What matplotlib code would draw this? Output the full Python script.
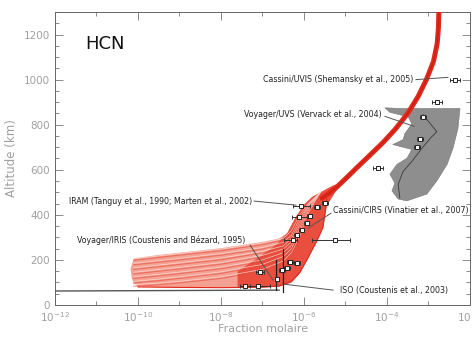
import numpy as np
import matplotlib
matplotlib.use("Agg")
import matplotlib.pyplot as plt
from matplotlib.ticker import FixedLocator, NullFormatter

# ---- data (log10 of mole fraction, altitude km) ----
# envelope of the model profiles (lower fan + converging band)
env_logx = [-10.15, -10.1, -10.0, -9.5, -8.5, -7.5, -7.0, -6.6, -6.3, -6.1, -5.93, -5.7, -5.54, -5.45, -5.25, -5.05,
            -5.3, -5.55, -5.8, -6.0, -6.2, -6.4, -6.6, -7.0, -7.5, -8.0, -9.0, -9.5, -10.1, -10.18]
env_alt = [120, 95, 82, 78, 76, 76, 78, 82, 100, 140, 198, 280, 343, 440, 500, 545,
           530, 505, 480, 445, 390, 320, 295, 280, 266, 252, 232, 222, 207, 160]
core_logx = [-7.6, -7.0, -6.6, -6.3, -6.1, -5.93, -5.7, -5.54, -5.45, -5.25, -5.05,
             -5.3, -5.55, -5.8, -6.0, -6.2, -6.4, -6.7, -7.1, -7.6]
core_alt = [77, 78, 82, 100, 140, 198, 280, 343, 440, 500, 545,
            530, 505, 480, 445, 390, 320, 262, 210, 150]

# individual model profiles (texture)
prof_logx = [-10.1, -9.5, -9.0, -8.0, -7.0, -6.5, -6.3, -6.1, -5.9, -5.6]
prof_alts = [
    [205, 218, 228, 248, 275, 295, 330, 400, 450, 500],
    [185, 197, 207, 228, 255, 278, 310, 385, 445, 500],
    [165, 177, 187, 208, 238, 262, 295, 370, 440, 500],
    [145, 157, 167, 188, 220, 248, 280, 355, 435, 500],
    [125, 136, 146, 168, 200, 232, 265, 340, 425, 500],
    [105, 115, 125, 147, 180, 215, 250, 325, 415, 500],
    [90, 97, 105, 125, 158, 195, 232, 305, 405, 500],
]
low_logx = [-10.0, -9.0, -8.0, -7.0, -6.6, -6.3, -6.1, -5.93, -5.7, -5.54, -5.45]
low_alt = [80, 78, 77, 79, 84, 105, 145, 200, 280, 345, 470]

# upper converged profile
top_logx = [-5.6, -5.4, -5.2, -5.0, -4.75, -4.41, -4.1, -3.8, -3.5, -3.25, -3.05, -2.88, -2.79, -2.76, -2.75]
top_alt = [470, 495, 525, 560, 605, 665, 720, 780, 850, 925, 1000, 1080, 1160, 1230, 1300]

# Voyager/UVS shaded region and its central profile
uvs_logx = [-4.05, -3.69, -2.24, -2.29, -2.41, -2.55, -2.80, -3.04, -3.52, -3.73, -3.88, -3.81, -3.93,
            -3.76, -3.52, -3.40, -3.86, -3.61, -3.57, -3.40, -3.49, -3.93]
uvs_alt = [875, 872, 872, 782, 695, 624, 550, 492, 462, 470, 506, 541, 580,
           624, 651, 690, 712, 734, 760, 804, 835, 855]
uvs_mid_logx = [-3.13, -2.80, -2.96, -3.16, -3.40, -3.61, -3.73, -3.69]
uvs_mid_alt = [844, 769, 739, 695, 637, 593, 536, 475]

# observations: log10 x, altitude, error (decades, left/right)
obs_logx = [-2.36, -2.80, -3.13, -3.20, -3.28, -4.22,
            -6.07, -5.49, -5.69, -6.12, -5.86, -5.93, -6.05, -6.17, -6.27,
            -5.25, -6.17, -6.34, -6.41, -6.53, -7.06, -6.65, -7.42, -7.11]
obs_alt = [998, 901, 835, 738, 699, 607,
           440, 453, 435, 391, 396, 365, 334, 312, 290,
           290, 185, 189, 163, 154, 145, 114, 84, 84]
obs_elo = [0.12, 0.12, 0.08, 0.08, 0.08, 0.12,
           0.20, 0.08, 0.08, 0.17, 0.06, 0.06, 0.06, 0.06, 0.20,
           0.56, 0.08, 0.08, 0.08, 0.08, 0.10, 0.06, 0.12, 0.30]
obs_ehi = [0.12, 0.12, 0.08, 0.08, 0.08, 0.12,
           0.21, 0.08, 0.08, 0.19, 0.06, 0.06, 0.06, 0.06, 0.10,
           0.36, 0.08, 0.08, 0.08, 0.08, 0.10, 0.06, 0.12, 0.30]
# ISO vertical bars
iso_logx = [-6.51, -6.67]
iso_lo = [57, 66]
iso_hi = [250, 198]
# low horizontal profile
flat_logx = [-12.0, -6.6]
flat_alt = [62, 66]

# annotations: text, anchor (log x, alt), leader line start/end (log x, alt)
ann_text = ["Cassini/UVIS (Shemansky et al., 2005)",
            "Voyager/UVS (Vervack et al., 2004)",
            "IRAM (Tanguy et al., 1990; Marten et al., 2002)",
            "Cassini/CIRS (Vinatier et al., 2007)",
            "Voyager/IRIS (Coustenis and Bézard, 1995)",
            "ISO (Coustenis et al., 2003)"]
ann_ha = ["right", "right", "right", "left", "right", "left"]
ann_txt_x = [-3.37, -4.12, -7.25, -5.30, -7.42, -5.13]
ann_txt_y = [1000, 846, 461, 421, 288, 66]
ann_x0 = [-3.30, -4.05, -7.20, -5.35, -7.30, -5.30]
ann_y0 = [1000, 837, 461, 407, 266, 66]
ann_x1 = [-2.53, -3.35, -6.19, -5.90, -6.75, -6.51]
ann_y1 = [1010, 793, 443, 341, 111, 93]

fig = plt.figure(figsize=(4.72, 3.37), dpi=100)
ax = fig.add_axes([0.1165, 0.095, 0.8792, 0.8694])
ax.set_xscale("log")

red = "#e3291b"
ax.fill(10 ** np.array(env_logx), env_alt, color="#f4a194", lw=0, zorder=1)
ax.fill(10 ** np.array(core_logx), core_alt, color="#e8402f", lw=0, alpha=0.85, zorder=1)
for alts in prof_alts:
    ax.plot(10 ** np.array(prof_logx), alts, color="#fde4de", lw=0.5, alpha=0.8, zorder=2)
    ax.plot(10 ** np.array(prof_logx), np.array(alts) - 7, color="#e44a38", lw=0.8, alpha=0.6, zorder=2)
ax.plot(10 ** np.array(low_logx), low_alt, color=red, lw=0.8, zorder=2)
ax.plot(10 ** np.array(top_logx), top_alt, color=red, lw=3.6, zorder=3, solid_capstyle="butt")
ax.plot(10 ** np.array(top_logx), top_alt, color="#c81e12", lw=0.8, zorder=3)

ax.fill(10 ** np.array(uvs_logx), uvs_alt, color="#8e8e8e", lw=0.4, ec="#777777", zorder=2)
ax.plot(10 ** np.array(uvs_mid_logx), uvs_mid_alt, color="#444444", lw=0.7, zorder=3)

ax.plot(10 ** np.array(flat_logx), flat_alt, color="#555555", lw=1.0, zorder=3)

ox = 10 ** np.array(obs_logx)
xerr = [ox - 10 ** (np.array(obs_logx) - np.array(obs_elo)),
        10 ** (np.array(obs_logx) + np.array(obs_ehi)) - ox]
ax.errorbar(ox, obs_alt, xerr=xerr, fmt="s", ms=3, mfc="white", mec="#222222", mew=0.7,
            ecolor="#333333", elinewidth=0.7, capsize=1.5, capthick=0.7, zorder=5)
for lx, lo, hi in zip(iso_logx, iso_lo, iso_hi):
    ax.plot([10 ** lx, 10 ** lx], [lo, hi], color="#222222", lw=0.9, zorder=5)

for t, ha, tx, ty, x0, y0, x1, y1 in zip(ann_text, ann_ha, ann_txt_x, ann_txt_y,
                                          ann_x0, ann_y0, ann_x1, ann_y1):
    ax.plot([10 ** x0, 10 ** x1], [y0, y1], color="#555555", lw=0.7, zorder=6)
    ax.text(10 ** tx, ty, t, ha=ha, va="center", fontsize=5.7, color="#222222",
            family=["Liberation Sans Narrow", "DejaVu Sans"], zorder=6)

ax.text(0.072, 0.89, "HCN", transform=ax.transAxes, fontsize=13, color="#111111", va="center")

ax.set_xlim(1e-12, 1e-2)
ax.set_ylim(0, 1300)
grey = "#a0a0a0"
ax.xaxis.set_major_locator(FixedLocator([1e-12, 1e-10, 1e-8, 1e-6, 1e-4, 1e-2]))
ax.xaxis.set_minor_locator(FixedLocator([1e-11, 1e-9, 1e-7, 1e-5, 1e-3]))
ax.xaxis.set_minor_formatter(NullFormatter())
ax.yaxis.set_major_locator(FixedLocator(np.arange(0, 1301, 200)))
ax.yaxis.set_minor_locator(FixedLocator(np.arange(0, 1301, 50)))
ax.tick_params(which="both", direction="in", top=True, right=True, colors="#777777",
               labelcolor=grey, labelsize=7.5, width=0.6)
ax.tick_params(axis="x", which="major", pad=4)
ax.tick_params(which="major", length=6)
ax.tick_params(which="minor", length=3)
for s in ax.spines.values():
    s.set_color("#666666")
    s.set_linewidth(0.7)
fig.text(263 / 472, 1 - 329 / 337, "Fraction molaire", color=grey, fontsize=8, ha="center", va="center")
ax.set_ylabel("Altitude (km)", color=grey, fontsize=8.5, labelpad=4)

fig.savefig("out.png", dpi=100)
